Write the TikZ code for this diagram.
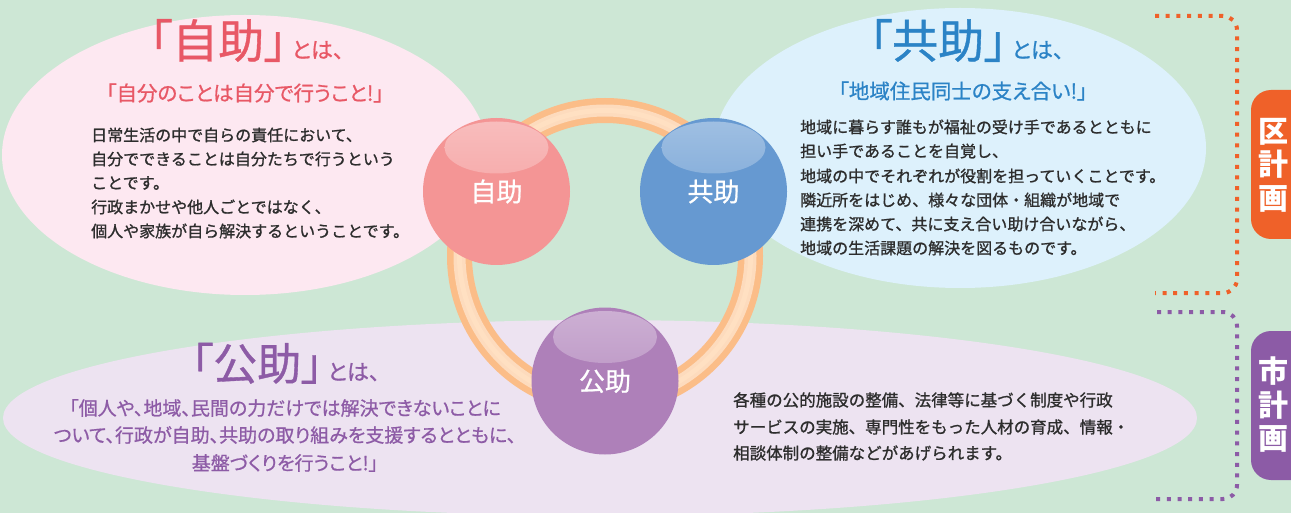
\documentclass[tikz,border=0pt]{standalone}
\usepackage{fontspec}
\setmainfont{Noto Sans CJK JP}
\newfontfamily\pfont[RawFeature=+palt,FakeBold=0.8]{Noto Sans CJK JP}
\newfontfamily\pmfont[RawFeature=+palt,FakeBold=0.8]{Noto Sans CJK JP}
\newfontfamily\mfont[FakeBold=1.1]{Noto Sans CJK JP}
\definecolor{bgc}{RGB}{205,231,213}
\definecolor{pinkel}{RGB}{253,232,241}
\definecolor{blueel}{RGB}{221,241,252}
\definecolor{lavel}{RGB}{237,227,241}
\definecolor{jred}{RGB}{232,88,102}
\definecolor{kblue}{RGB}{43,131,198}
\definecolor{kpur}{RGB}{141,91,166}
\definecolor{cjo}{RGB}{244,149,149}
\definecolor{cky}{RGB}{102,153,209}
\definecolor{cko}{RGB}{174,128,185}
\definecolor{ringc}{RGB}{251,189,136}
\definecolor{ringhi}{RGB}{255,224,194}
\definecolor{orng}{RGB}{239,97,41}
\definecolor{tpur}{RGB}{140,91,166}
\definecolor{txt}{RGB}{45,45,45}
\begin{document}
\begin{tikzpicture}[x=1pt,y=-1pt,
  body/.style={anchor=west, inner sep=0pt, text=txt, font=\mfont\fontsize{16}{16}\selectfont},
  bodyb/.style={anchor=west, inner sep=0pt, text=txt, font=\mfont\fontsize{16.5}{16.5}\selectfont},
  quote/.style={inner sep=0pt, font=\pmfont\fontsize{20.5}{20.5}\selectfont},
  kquote/.style={inner sep=0pt, text=kpur, font=\pmfont\fontsize{19}{19}\selectfont},
  title/.style={anchor=base west, inner sep=0pt},
  ball/.style={circle, minimum size=147pt, inner sep=0pt, draw=none, text=white,
    font=\pmfont\fontsize{26}{26}\selectfont,
    path picture={\shade[top color=white!38!#1, middle color=#1, bottom color=#1]
      ([yshift=44pt]path picture bounding box.center) ellipse [x radius=52pt, y radius=26pt];},
    fill=#1},
  tab/.style={rectangle, rounded corners=20pt, minimum width=60pt, minimum height=149pt, inner sep=0pt},
  tabtext/.style={inner sep=0pt, text=white, align=center, font=\bfseries\fontsize{30}{33.5}\selectfont},
  dotline/.style={line width=4pt, dash pattern=on 4pt off 6.7pt, rounded corners=14pt}
]
\useasboundingbox (0,0) rectangle (1291,513);
\fill[bgc] (0,0) rectangle (1291,513);

% background ellipses
\fill[pinkel] (245,155) ellipse [x radius=243pt, y radius=140pt];
\fill[blueel] (960,148) ellipse [x radius=246pt, y radius=140pt];
\fill[lavel] (600,418) ellipse [x radius=597pt, y radius=98pt];

% ring
\draw[ringc, line width=25pt] (605,256) circle [radius=145.5pt];
\draw[white!45!ringc, line width=12pt] (605,256) circle [radius=145.5pt];
\draw[ringhi, line width=5pt] (605,256) circle [radius=145.5pt];

% balls
\node[ball=cjo] (jo) at (496.5,191.5) {自助};
\node[ball=cky] (ky) at (713.5,191.5) {共助};
\node[ball=cko] (ko) at (605,381) {公助};

% Jijo
\node[title, text=jred] (tjo) at (149,58) {\pfont\fontsize{46}{46}\selectfont 「自助」};
\node[title, text=jred] (tjo2) at ([xshift=4pt]tjo.base east) {\pfont\fontsize{22}{22}\selectfont とは、};
\node[quote, text=jred] (qjo) at (245,93) {「自分のことは自分で行うこと!」};
\node[body] (jo1) at (91,135) {日常生活の中で自らの責任において、};
\node[body] (jo2) at (91,159) {自分でできることは自分たちで行うという};
\node[body] (jo3) at (91,183) {ことです。};
\node[body] (jo4) at (91,207) {行政まかせや他人ごとではなく、};
\node[body] (jo5) at (91,231) {個人や家族が自ら解決するということです。};

% Kyojo
\node[title, text=kblue] (tky) at (869,58) {\pfont\fontsize{46}{46}\selectfont 「共助」};
\node[title, text=kblue] (tky2) at ([xshift=4pt]tky.base east) {\pfont\fontsize{22}{22}\selectfont とは、};
\node[quote, text=kblue] (qky) at (963,91) {「地域住民同士の支え合い!」};
\node[body] (ky1) at (800,127) {地域に暮らす誰もが福祉の受け手であるとともに};
\node[body] (ky2) at (800,151) {担い手であることを自覚し、};
\node[body] (ky3) at (800,176) {地域の中でそれぞれが役割を担っていくことです。};
\node[body] (ky4) at (800,200) {隣近所をはじめ、様々な団体・組織が地域で};
\node[body] (ky5) at (800,224) {連携を深めて、共に支え合い助け合いながら、};
\node[body] (ky6) at (800,248) {地域の生活課題の解決を図るものです。};

% Kojo
\node[title, text=kpur] (tko) at (191,380) {\pfont\fontsize{44}{44}\selectfont 「公助」};
\node[title, text=kpur] (tko2) at ([xshift=4pt]tko.base east) {\pfont\fontsize{22}{22}\selectfont とは、};
\node[kquote] (qko1) at (285,408) {「個人や、地域、民間の力だけでは解決できないことに};
\node[kquote] (qko2) at (285,435) {ついて、行政が自助、共助の取り組みを支援するとともに、};
\node[kquote] (qko3) at (285,463) {基盤づくりを行うこと!」};
\node[bodyb] (ko1) at (733,400) {各種の公的施設の整備、法律等に基づく制度や行政};
\node[bodyb] (ko2) at (733,427) {サービスの実施、専門性をもった人材の育成、情報・};
\node[bodyb] (ko3) at (733,453) {相談体制の整備などがあげられます。};

% brackets
\coordinate (ob1) at (1155,16);
\coordinate (ob2) at (1155,293);
\coordinate (pb1) at (1157,312);
\coordinate (pb2) at (1155,499);
\draw[dotline, orng] (ob1) -- (1237,16) -- (1237,293) -- (ob2);
\draw[dotline, tpur] (pb1) -- (1237,312) -- (1237,499) -- (pb2);

% tabs
\node[tab, fill=orng] (kutab) at (1281,164.5) {};
\node[tabtext] (kutext) at (1273,165) {区\\計\\画};
\node[tab, fill=tpur] (shitab) at (1281,405.5) {};
\node[tabtext] (shitext) at (1273,405) {市\\計\\画};
\end{tikzpicture}
\end{document}
